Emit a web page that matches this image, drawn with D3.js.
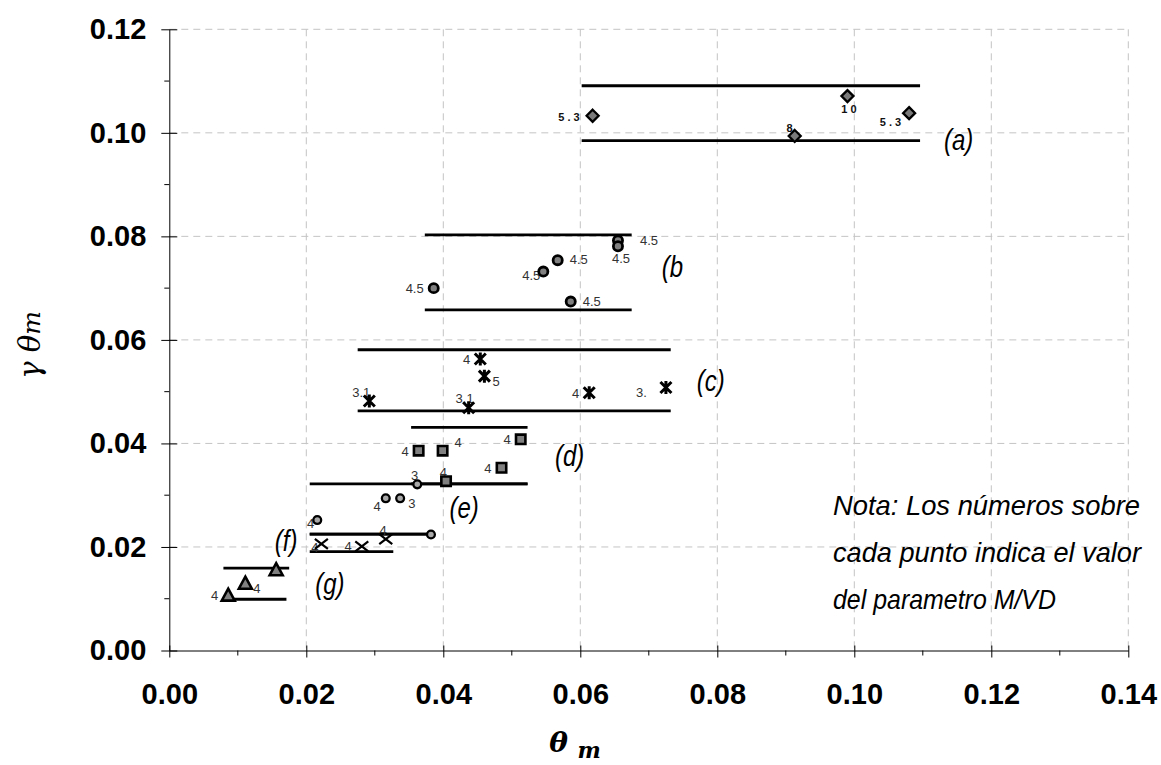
<!DOCTYPE html>
<html>
<head>
<meta charset="utf-8">
<script src="https://cdn.jsdelivr.net/npm/d3@7"></script>
<style>
  body { margin: 0; background: #fff; }
  svg { display: block; }
</style>
</head>
<body>
<div id="chart"></div>
<script>
// tick values of both axes
const xTicks = [0, 0.02, 0.04, 0.06, 0.08, 0.10, 0.12, 0.14];
const yTicks = [0, 0.02, 0.04, 0.06, 0.08, 0.10, 0.12];

// group names
const groups = ["(a)", "(b", "(c)", "(d)", "(e)", "(f)", "(g)"];
const groupLabelX = [0.1131, 0.0719, 0.0770, 0.0563, 0.0409, 0.0154, 0.0213];
const groupLabelY = [0.0967, 0.0722, 0.0501, 0.0356, 0.0256, 0.0192, 0.0109];

// points: [theta_m, gamma*theta_m, M/VD label, label side]
const pointsA = [[0.0618, 0.1033, "5.3", "l"], [0.0913, 0.0994, "8", "tl"], [0.0990, 0.1071, "10", "b"], [0.1080, 0.1038, "5.3", "bl"]];
const pointsB = [[0.0386, 0.0700, "4.5", "l"], [0.0546, 0.0732, "4.5", "l2"], [0.0567, 0.0754, "4.5", "r"], [0.0586, 0.0674, "4.5", "r"], [0.0655, 0.0792, "4.5", "r2"], [0.0655, 0.0781, "4.5", "b"]];
const pointsC = [[0.0292, 0.0482, "3.1", "tl"], [0.0437, 0.0469, "3.1", "t"], [0.0454, 0.0563, "4", "l"], [0.0460, 0.0530, "5", "br"], [0.0613, 0.0498, "4", "l"], [0.0725, 0.0508, "3.", "l3"]];
const pointsD = [[0.0364, 0.0386, "4", "l"], [0.0399, 0.0386, "4", "tr"], [0.0513, 0.0408, "4", "l"], [0.0485, 0.0353, "4", "l"], [0.0404, 0.0327, "4", "tl"]];
const pointsE = [[0.0362, 0.0321, "3", "tl"], [0.0316, 0.0294, "4", "bl"], [0.0337, 0.0294, "3", "br"], [0.0216, 0.0252, "4", "l2"], [0.0382, 0.0224, "", "l"]];
const pointsF = [[0.0222, 0.0206, "4", "l2"], [0.0281, 0.0201, "4", "l"], [0.0316, 0.0215, "4", "tl"]];
const pointsG = [[0.0086, 0.0107, "4", "l"], [0.0111, 0.0130, "4", "br"], [0.0156, 0.0156, "", "l"]];

// range bands: [y, x start, x end]
const bandsA = [[0.1091, 0.0602, 0.1096], [0.0985, 0.0602, 0.1096]];
const bandsB = [[0.0803, 0.0373, 0.0675], [0.0658, 0.0373, 0.0675]];
const bandsC = [[0.0581, 0.0275, 0.0732], [0.0463, 0.0275, 0.0732]];
const bandsD = [[0.0431, 0.0353, 0.0523], [0.0322, 0.0353, 0.0523]];
const bandsE = [[0.0322, 0.0205, 0.0523], [0.0225, 0.0205, 0.0383]];
const bandsF = [[0.0225, 0.0205, 0.0383], [0.0191, 0.0205, 0.0327]];
const bandsG = [[0.0159, 0.0079, 0.0175], [0.0099, 0.0079, 0.0171]];

const noteLines = ["Nota: Los números sobre", "cada punto indica el valor", "del parametro M/VD"];
const noteWidths = [307, 308, 223];

const W = 1161, H = 765;
const svg = d3.select("#chart").append("svg").attr("width", W).attr("height", H);

const x = d3.scaleLinear().domain([0, 0.14]).range([169.3, 1128.3]);
const y = d3.scaleLinear().domain([0, 0.12]).range([650.5, 29.3]);

const sans = "'Liberation Sans', Arial, sans-serif";

// grid
const grid = svg.append("g").attr("stroke", "#c4c4c4").attr("stroke-width", 1).attr("stroke-dasharray", "7,5");
grid.selectAll(".gx").data(xTicks.slice(1)).enter().append("line")
  .attr("x1", d => x(d)).attr("x2", d => x(d)).attr("y1", y(0.12)).attr("y2", y(0));
grid.selectAll(".gy").data(yTicks.slice(1)).enter().append("line")
  .attr("x1", x(0)).attr("x2", x(0.14)).attr("y1", d => y(d)).attr("y2", d => y(d));

// axes
const fmt = d3.format(".2f");
const xAxis = svg.append("g").attr("transform", "translate(0," + y(0) + ")")
  .call(d3.axisBottom(x).tickValues(xTicks).tickFormat(fmt).tickSizeInner(0).tickSizeOuter(0).tickPadding(33));
xAxis.select(".domain").attr("stroke", "#000");
xAxis.selectAll(".tick line").attr("y1", -5).attr("y2", 7).attr("stroke", "#000");
xAxis.selectAll("text").attr("font-family", sans).attr("font-weight", "bold").attr("font-size", 29).attr("fill", "#000");

const yAxis = svg.append("g").attr("transform", "translate(" + x(0) + ",0)")
  .call(d3.axisLeft(y).tickValues(yTicks).tickFormat(fmt).tickSizeInner(0).tickSizeOuter(0).tickPadding(23));
yAxis.select(".domain").attr("stroke", "#000");
yAxis.selectAll(".tick line").attr("x1", -8).attr("x2", 8).attr("stroke", "#000");
yAxis.selectAll("text").attr("font-family", sans).attr("font-weight", "bold").attr("font-size", 29).attr("fill", "#000");

// minor ticks
const xMinor = xTicks.slice(0, -1).map(d => d + 0.01);
const yMinor = yTicks.slice(0, -1).map(d => d + 0.01);
svg.append("g").selectAll("line").data(xMinor).enter().append("line")
  .attr("x1", d => x(d)).attr("x2", d => x(d)).attr("y1", y(0)).attr("y2", y(0) + 5).attr("stroke", "#000");
svg.append("g").selectAll("line").data(yMinor).enter().append("line")
  .attr("x1", x(0) - 5).attr("x2", x(0)).attr("y1", d => y(d)).attr("y2", d => y(d)).attr("stroke", "#000");

// band lines
const allBands = [bandsA, bandsB, bandsC, bandsD, bandsE, bandsF, bandsG];
const bandG = svg.append("g").attr("stroke", "#000").attr("stroke-width", 2.8);
allBands.forEach(b => {
  bandG.append("g").selectAll("line").data(b).enter().append("line")
    .attr("x1", d => x(d[1])).attr("x2", d => x(d[2]))
    .attr("y1", d => y(d[0])).attr("y2", d => y(d[0]));
});

// markers
const markers = {
  diamond: { d: "M0,-6L6,0L0,6L-6,0Z", fill: "#7a7a7a", sw: 2.3 },
  circle: { d: d3.symbol(d3.symbolCircle, 66)(), fill: "#808080", sw: 2.8 },
  ring: { d: d3.symbol(d3.symbolCircle, 48)(), fill: "#a8a8a8", sw: 2.3 },
  asterisk: { d: "M-5.5,-5.5L5.5,5.5M-5.5,5.5L5.5,-5.5M0,-6.5L0,6.5", fill: "none", sw: 3 },
  square: { d: "M-4.7,-4.7H4.7V4.7H-4.7Z", fill: "#808080", sw: 2.6 },
  cross: { d: "M-6.5,-5L6.5,5M-6.5,5L6.5,-5", fill: "none", sw: 2.2 },
  triangle: { d: "M0,-6.5L6.5,5.5L-6.5,5.5Z", fill: "#808080", sw: 2.6 }
};
const series = [
  [pointsA, "diamond"], [pointsB, "circle"], [pointsC, "asterisk"], [pointsD, "square"],
  [pointsE, "ring"], [pointsF, "cross"], [pointsG, "triangle"]
];

// label placement by side code
const side = {
  l: ["end", -10, 5], l2: ["end", -3, 8], l3: ["end", -19, 9],
  r: ["start", 12, 4], r2: ["start", 22, 4],
  t: ["middle", -4, -5], b: ["middle", 3, 17],
  tl: ["end", 1, -4], tr: ["start", 12, -4],
  bl: ["end", -5, 13], br: ["start", 8, 10]
};

series.forEach(([pts, m], i) => {
  const mk = markers[m];
  const g = svg.append("g");
  const lab = g.selectAll("text").data(pts.filter(d => d[2] !== "")).enter().append("text")
    .attr("x", d => x(d[0]) + side[d[3]][1])
    .attr("y", d => y(d[1]) + side[d[3]][2])
    .attr("text-anchor", d => side[d[3]][0])
    .attr("font-family", sans)
    .text(d => d[2]);
  if (i === 0) {
    lab.attr("font-size", 11).attr("font-weight", "bold").attr("letter-spacing", 3).attr("fill", "#111");
  } else {
    lab.attr("font-size", 13).attr("fill", "#333");
  }
  g.selectAll("path").data(pts).enter().append("path")
    .attr("d", mk.d)
    .attr("transform", d => "translate(" + x(d[0]) + "," + y(d[1]) + ")")
    .attr("fill", mk.fill).attr("stroke", "#000").attr("stroke-width", mk.sw);
});

// group labels (condensed italic)
svg.append("g").selectAll("text").data(groups).enter().append("text")
  .attr("transform", (d, i) => "translate(" + x(groupLabelX[i]) + "," + y(groupLabelY[i]) + ") scale(0.8,1)")
  .attr("font-family", sans).attr("font-style", "italic").attr("font-size", 30)
  .text(d => d);

// note
svg.append("g").selectAll("text").data(noteLines).enter().append("text")
  .attr("x", 833).attr("y", (d, i) => 515 + i * 47)
  .attr("font-family", sans).attr("font-style", "italic").attr("font-size", 28)
  .attr("textLength", (d, i) => noteWidths[i]).attr("lengthAdjust", "spacingAndGlyphs")
  .text(d => d);

// axis titles
const yt = svg.append("text")
  .attr("transform", "translate(40,345) rotate(-90)")
  .attr("text-anchor", "middle")
  .attr("font-family", "'DejaVu Serif', 'Liberation Serif', serif")
  .attr("font-style", "italic").attr("font-size", 29);
yt.append("tspan").text("γ θ");
yt.append("tspan").attr("font-size", 25).text("m");

const xt = svg.append("text")
  .attr("x", 575).attr("y", 752)
  .attr("text-anchor", "middle")
  .attr("font-family", "'DejaVu Serif', 'Liberation Serif', serif")
  .attr("font-style", "italic").attr("font-weight", "bold").attr("font-size", 28);
xt.append("tspan").text("θ ");
xt.append("tspan").attr("font-size", 22).attr("dy", 6).text("m");
</script>
</body>
</html>
